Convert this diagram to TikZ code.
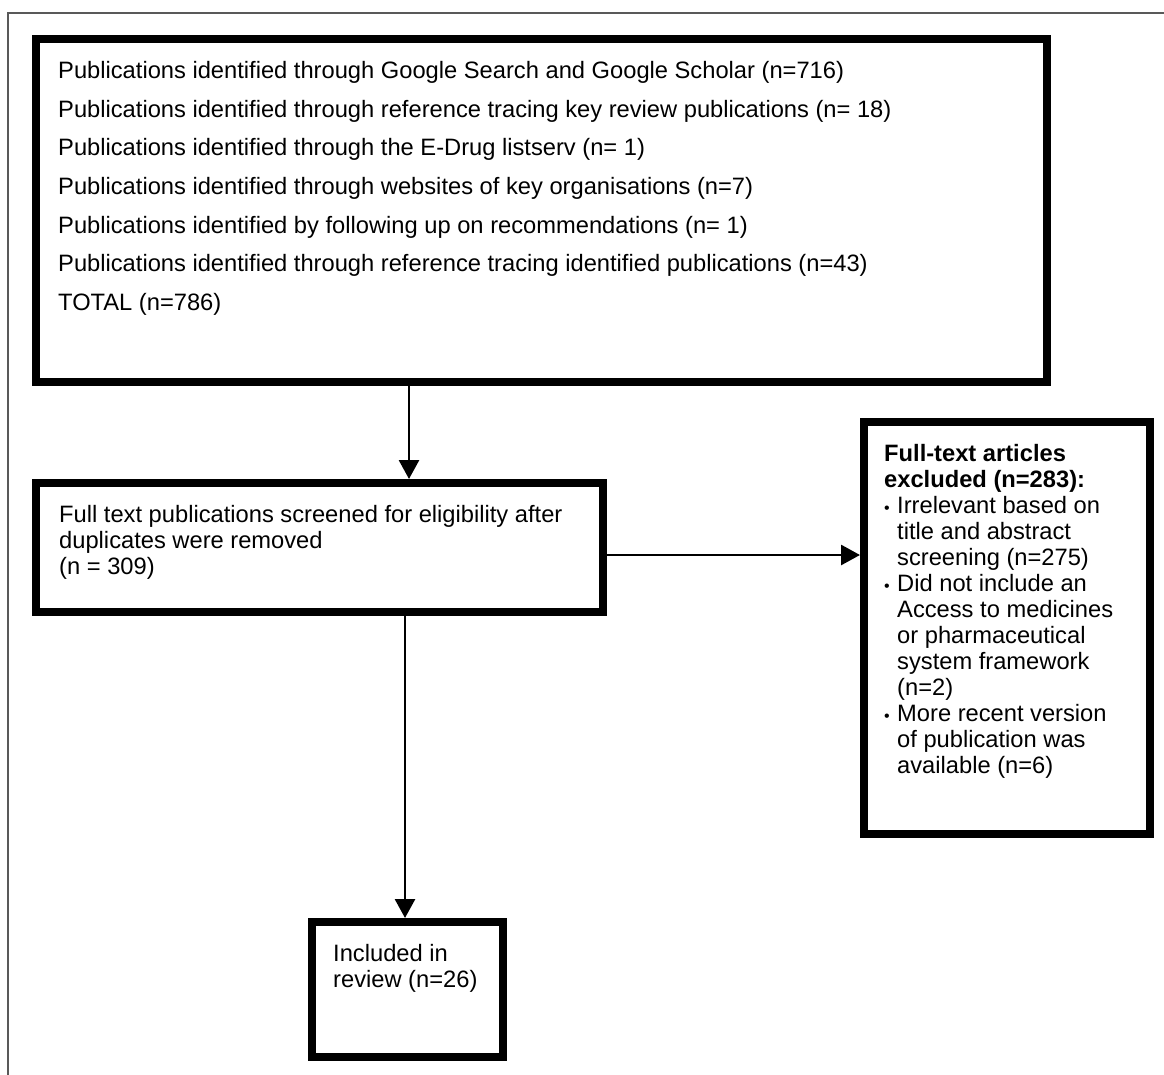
\documentclass[tikz,border=0pt]{standalone}
\usepackage{fontspec}
\setmainfont{Liberation Sans}
\usetikzlibrary{arrows.meta}
\begin{document}
\begin{tikzpicture}[x=1pt,y=-1pt,
  boxnode/.style={draw=black,line width=8pt,rectangle,inner sep=0pt,minimum width=#1},
  txt/.style={anchor=north west,inner sep=0pt,align=left,font=\fontsize{23.7}{26}\selectfont},
  arr/.style={draw=black,line width=2.8pt,-{Triangle[length=19pt,width=20pt]}},
  frameline/.style={draw=black!65,line width=2pt}]
\useasboundingbox (0,0) rectangle (1164,1075);
% outer frame (cropped)
\draw[frameline] (8,1075) -- (8,13) -- (1164,13);
% boxes
\node[boxnode=1011pt,minimum height=343pt] (b1) at (541.5,210.5) {};
\node[boxnode=567pt,minimum height=129pt] (b2) at (319.5,547.5) {};
\node[boxnode=286pt,minimum height=412pt] (b3) at (1007,628) {};
\node[boxnode=191pt,minimum height=135pt] (b4) at (407.5,989.5) {};
% texts
\node[txt,font=\fontsize{23.7}{38.67}\selectfont] (t1) at (58,61) {Publications identified through Google Search and Google Scholar (n=716)\\
Publications identified through reference tracing key review publications (n= 18)\\
Publications identified through the E-Drug listserv (n= 1)\\
Publications identified through websites of key organisations (n=7)\\
Publications identified by following up on recommendations (n= 1)\\
Publications identified through reference tracing identified publications (n=43)\\
TOTAL (n=786)};
\node[txt] (t2) at (59,505) {Full text publications screened for eligibility after\\
duplicates were removed\\
(n = 309)};
\node[txt] (t3) at (884,444) {\textbf{Full-text articles}\\
\textbf{excluded (n=283):}\\
\makebox[13pt][l]{\fontsize{16}{16}\selectfont •}Irrelevant based on\\
\hspace*{13pt}title and abstract\\
\hspace*{13pt}screening (n=275)\\
\makebox[13pt][l]{\fontsize{16}{16}\selectfont •}Did not include an\\
\hspace*{13pt}Access to medicines\\
\hspace*{13pt}or pharmaceutical\\
\hspace*{13pt}system framework\\
\hspace*{13pt}(n=2)\\
\makebox[13pt][l]{\fontsize{16}{16}\selectfont •}More recent version\\
\hspace*{13pt}of publication was\\
\hspace*{13pt}available (n=6)};
\node[txt] (t4) at (333,944) {Included in\\
review (n=26)};
% connectors
\draw[arr] ([xshift=377pt]b1.south west) -- ([xshift=377pt]b1.south west |- b2.north);
\draw[arr] ([yshift=-7.5pt]b2.east) -- ([yshift=-7.5pt]b2.east -| b3.west);
\draw[arr] ([xshift=-2.5pt]b4.north |- b2.south) -- ([xshift=-2.5pt]b4.north);
\end{tikzpicture}
\end{document}
